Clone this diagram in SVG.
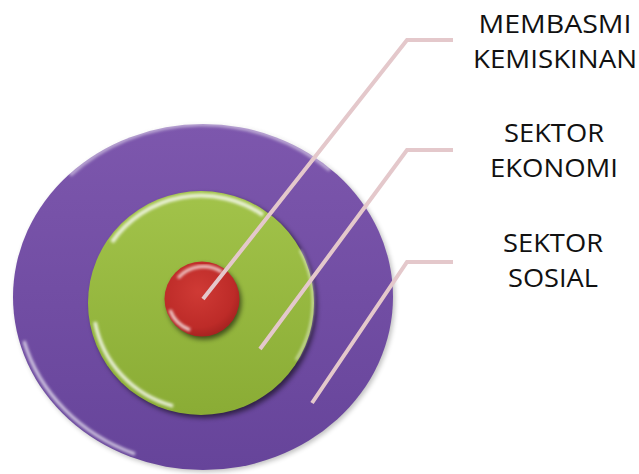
<svg xmlns="http://www.w3.org/2000/svg" width="639" height="474" viewBox="0 0 639 474">
  <defs>
    <linearGradient id="gPurple" x1="0" y1="0" x2="0" y2="1">
      <stop offset="0" stop-color="#7d57ad"/>
      <stop offset="1" stop-color="#66449a"/>
    </linearGradient>
    <linearGradient id="gGreen" x1="0" y1="0" x2="0" y2="1">
      <stop offset="0" stop-color="#a2c34a"/>
      <stop offset="1" stop-color="#8aac35"/>
    </linearGradient>
    <radialGradient id="gRed" cx="0.45" cy="0.4" r="0.6">
      <stop offset="0" stop-color="#cf3a35"/>
      <stop offset="0.8" stop-color="#bd2b28"/>
      <stop offset="1" stop-color="#a82321"/>
    </radialGradient>
    <filter id="blur1" x="-20%" y="-20%" width="140%" height="140%">
      <feGaussianBlur stdDeviation="1.5"/>
    </filter>
    <filter id="shadow" x="-20%" y="-20%" width="140%" height="140%">
      <feGaussianBlur stdDeviation="2.5"/>
    </filter>
  </defs>
  <style>
    .conn { fill: none; stroke: #e4c8cb; stroke-width: 4; stroke-linejoin: miter; }
    .label { font-family: "Open Sans", "Liberation Sans", sans-serif; font-size: 26px; fill: #111111; text-anchor: middle; }
    .hl { fill: none; stroke: #ffffff; filter: url(#blur1); }
    .sh { fill: #000000; filter: url(#shadow); }
  </style>
  <rect width="639" height="474" fill="#ffffff"/>

  <g id="node-sektor-sosial">
    <ellipse class="sh" cx="205" cy="299" rx="190" ry="173" opacity="0.25"/>
    <ellipse cx="203" cy="297" rx="190" ry="173" fill="url(#gPurple)"/>
    <path class="hl" d="M24,341 A185,168 0 0 0 135,454" stroke-width="3" opacity="0.75"/>
    <path class="hl" d="M70,175 A186,169 0 0 1 330,170" stroke="#b79ad8" stroke-width="4" opacity="0.5"/>
    <text class="label" x="553" y="252" textLength="100" lengthAdjust="spacingAndGlyphs">SEKTOR</text>
    <text class="label" x="553" y="287" textLength="90" lengthAdjust="spacingAndGlyphs">SOSIAL</text>
  </g>

  <g id="node-sektor-ekonomi">
    <ellipse class="sh" cx="204" cy="306" rx="113" ry="112" opacity="0.55"/>
    <ellipse cx="201" cy="303" rx="113" ry="112" fill="url(#gGreen)"/>
    <path class="hl" d="M112,242 A108,107 0 0 1 263,215" stroke="#eef7a0" stroke-width="4" opacity="0.8"/>
    <path class="hl" d="M95,322 A108,107 0 0 0 173,406" stroke-width="3.5" opacity="0.85"/>
    <path class="hl" d="M300,250 A110,109 0 0 1 296,360" stroke="#e9f59a" stroke-width="2" opacity="0.7"/>
    <text class="label" x="554" y="142" textLength="100" lengthAdjust="spacingAndGlyphs">SEKTOR</text>
    <text class="label" x="554" y="177" textLength="128" lengthAdjust="spacingAndGlyphs">EKONOMI</text>
  </g>

  <g id="node-membasmi-kemiskinan">
    <ellipse class="sh" cx="204" cy="302" rx="37.5" ry="37.5" opacity="0.55"/>
    <ellipse cx="202" cy="299" rx="37.5" ry="37.5" fill="url(#gRed)"/>
    <path class="hl" d="M178,278 A34,34 0 0 1 222,272" stroke="#f3a3a0" stroke-width="3" opacity="0.8"/>
    <path class="hl" d="M170,310 A34,34 0 0 0 190,330" stroke-width="3" opacity="0.85"/>
    <text class="label" x="555" y="33" textLength="153" lengthAdjust="spacingAndGlyphs">MEMBASMI</text>
    <text class="label" x="555" y="68" textLength="164" lengthAdjust="spacingAndGlyphs">KEMISKINAN</text>
  </g>

  <g id="connectors">
    <polyline class="conn" points="203,299 407,40 453,40"/>
    <polyline class="conn" points="260,349 407,150 453,150"/>
    <polyline class="conn" points="312,403 407,262 453,262"/>
  </g>
</svg>
